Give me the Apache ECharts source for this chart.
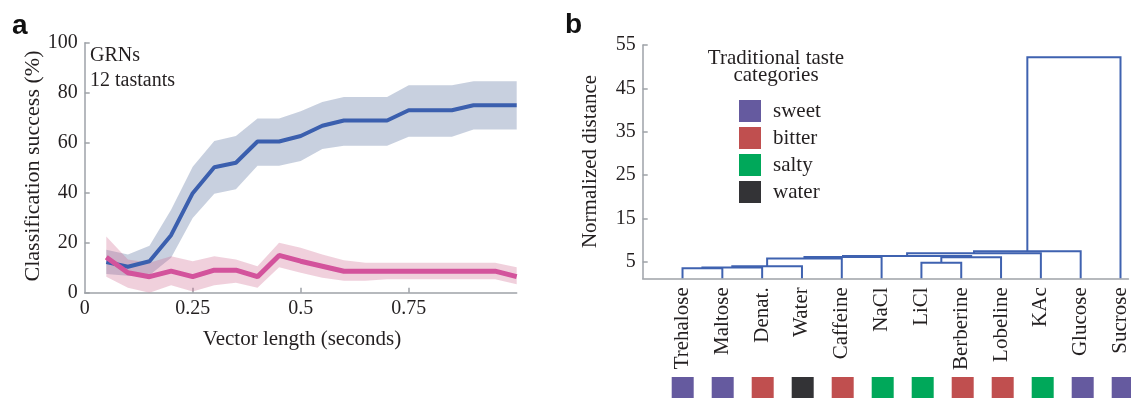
<!DOCTYPE html>
<html>
<head>
<meta charset="utf-8">
<script src="https://cdn.jsdelivr.net/npm/echarts@6/dist/echarts.min.js"></script>
<style>
html,body{margin:0;padding:0;background:#fff;}
#c{width:1131px;height:398px;}
</style>
</head>
<body>
<div id="c"></div>
<script>
// ---------- Panel a data ----------
const vectorLength = [0.05,0.1,0.15,0.2,0.25,0.3,0.35,0.4,0.45,0.5,0.55,0.6,0.65,0.7,0.75,0.8,0.85,0.9,0.95,1.0];
const blueMean  = [12.3,10.4,12.6,23,39.8,50.2,52,60.5,60.5,62.7,66.8,68.9,68.9,68.9,73,73,73,75,75,75];
const blueUpper = [17.2,15.3,18.8,33.2,50.4,60.7,62.7,69.7,69.7,72.6,76.3,78.3,78.3,78.3,83,83,83,84.6,84.6,84.6];
const blueLower = [7.5,6.8,7,14,29.9,39.6,41.4,50.8,50.8,52.7,57.5,58.8,58.8,58.8,62.4,62.4,62.4,65.3,65.3,65.3];
const pinkMean  = [14.2,8,6.4,8.6,6.4,9,9,6.4,14.9,12.6,10.6,8.6,8.6,8.6,8.6,8.6,8.6,8.6,8.6,6.4];
const pinkUpper = [22.5,13.3,12,14.6,12.6,14.6,13.3,10.6,20,18,15.3,13,12,12,12,12,12,12,12,10.2];
const pinkLower = [6.4,2,0,3,0.5,3,4,2,10.2,8,6,4.8,4.8,5.4,5.4,5.4,5.4,5.4,5.4,3.4];
const xTickLabels = [0,0.25,0.5,0.75];

// ---------- Panel b data ----------
const leaves = ['Trehalose','Maltose','Denat.','Water','Caffeine','NaCl','LiCl','Berberine','Lobeline','KAc','Glucose','Sucrose'];
const leafCategory = ['sweet','sweet','bitter','water','bitter','salty','salty','bitter','bitter','salty','sweet','sweet'];
const categories = ['sweet','bitter','salty','water'];
// linkage: node ids 0-11 are leaves, 12+ are merged clusters
const linkLeft   = [0,12,13,14,15,6,17,16,19,20,21];
const linkRight  = [1,2,3,4,5,7,8,18,9,10,11];
const linkHeight = [3.5,3.7,4.0,5.75,6.1,4.8,6.05,6.35,6.95,7.45,52.2];
const distTicks = [5,15,25,35,45,55];

// ---------- styles ----------
const SERIF = 'Liberation Serif';
const TXT = '#231f20';
const AX = '#9ea2a8';
const catColor = {sweet:'#655a9f', bitter:'#c04f4f', salty:'#00a85a', water:'#333336'};
const Y_MIN_B = 1.2;

function pairs(ys){ return vectorLength.map((x,i)=>[x,ys[i]]); }

function bandSeries(lower, upper, fill, z){
  return {
    type:'custom', xAxisIndex:0, yAxisIndex:0, silent:true, z:z, clip:true,
    data: vectorLength.map((x,i)=>[x, lower[i], upper[i]]),
    encode:{x:0, y:[1,2]},
    renderItem:function(params, api){
      if (params.dataIndex !== 0) return null;
      const pts = [];
      for (let i=0;i<vectorLength.length;i++) pts.push(api.coord([vectorLength[i], upper[i]]));
      for (let i=vectorLength.length-1;i>=0;i--) pts.push(api.coord([vectorLength[i], lower[i]]));
      return {type:'polygon', shape:{points:pts}, style:{fill:fill, stroke:null}};
    }
  };
}

// dendrogram geometry in data units
const nodeX = leaves.map((_,i)=>i+1);
const nodeH = leaves.map(()=>Y_MIN_B);
const linkData = [];
linkLeft.forEach((l,k)=>{
  const r = linkRight[k], h = linkHeight[k];
  linkData.push({coords:[[nodeX[l],nodeH[l]],[nodeX[l],h],[nodeX[r],h],[nodeX[r],nodeH[r]]]});
  nodeX.push((nodeX[l]+nodeX[r])/2);
  nodeH.push(h);
});

const squareSeries = categories.map(cat=>({
  name: cat, type:'scatter', xAxisIndex:2, yAxisIndex:2,
  symbol:'rect', symbolSize:[22,21], silent:true,
  itemStyle:{color:catColor[cat], opacity:1},
  data: leaves.map((_,i)=>i).filter(i=>leafCategory[i]===cat).map(i=>[i+1,0.5])
}));

const chart = echarts.init(document.getElementById('c'));
chart.setOption({
  animation:false,
  textStyle:{fontFamily:SERIF,color:TXT},
  grid:[
    {left:84.7, top:42.7, width:432, height:250},
    {left:642.7, top:45, width:488, height:233.3},
    {left:642.7, top:377, width:488, height:21}
  ],
  xAxis:[
    {gridIndex:0, type:'value', min:0, max:1,
     axisLine:{lineStyle:{color:AX,width:1.5}},
     axisTick:{inside:true,length:5,customValues:[0.25,0.5,0.75],lineStyle:{color:AX,width:1.5}},
     axisLabel:{customValues:xTickLabels,fontFamily:SERIF,fontSize:20,color:TXT,margin:6},
     splitLine:{show:false}},
    {gridIndex:1, type:'value', min:0, max:12.2,
     axisLine:{lineStyle:{color:AX,width:1.5}},
     axisTick:{show:false},
     axisLabel:{customValues:leaves.map((_,i)=>i+1),rotate:90,fontFamily:SERIF,fontSize:21,color:TXT,margin:9,
       formatter:v=>leaves[Math.round(v)-1]},
     splitLine:{show:false}},
    {gridIndex:2, type:'value', min:0, max:12.2, show:false}
  ],
  yAxis:[
    {gridIndex:0, type:'value', min:0, max:100, interval:20,
     axisLine:{show:true,lineStyle:{color:AX,width:1.5}},
     axisTick:{show:true,inside:true,length:5,lineStyle:{color:AX,width:1.5}},
     axisLabel:{fontFamily:SERIF,fontSize:20,color:TXT,margin:7},
     splitLine:{show:false}},
    {gridIndex:1, type:'value', min:Y_MIN_B, max:55,
     axisLine:{show:true,lineStyle:{color:AX,width:1.5}},
     axisTick:{show:true,inside:true,length:5,customValues:distTicks,lineStyle:{color:AX,width:1.5}},
     axisLabel:{customValues:distTicks,fontFamily:SERIF,fontSize:20,color:TXT,margin:7},
     splitLine:{show:false}},
    {gridIndex:2, type:'value', min:0, max:1, show:false}
  ],
  legend:{
    data:categories, orient:'vertical', left:739, top:100, padding:0,
    itemWidth:22, itemHeight:22, itemGap:5, icon:'rect', selectedMode:false,
    textStyle:{fontFamily:SERIF,fontSize:21,color:TXT,padding:[0,0,0,7]}
  },
  series:[
    bandSeries(blueLower, blueUpper, 'rgba(74,98,150,0.3)', 1),
    bandSeries(pinkLower, pinkUpper, 'rgba(205,98,140,0.3)', 2),
    {type:'line', xAxisIndex:0, yAxisIndex:0, data:pairs(blueMean), symbol:'none', lineStyle:{color:'#3b5fae',width:4}, silent:true, z:3},
    {type:'line', xAxisIndex:0, yAxisIndex:0, data:pairs(pinkMean), symbol:'none', lineStyle:{color:'#d3539c',width:5}, silent:true, z:4},
    {type:'lines', coordinateSystem:'cartesian2d', xAxisIndex:1, yAxisIndex:1, polyline:true, silent:true,
     lineStyle:{color:'#3f62b0',width:2,opacity:1}, data:linkData, z:3}
  ].concat(squareSeries),
  graphic:[
    {type:'text', x:12, y:26, style:{text:'a', font:'bold 28px "Liberation Sans"', fill:'#111', textAlign:'left', textVerticalAlign:'middle'}},
    {type:'text', x:565, y:25, style:{text:'b', font:'bold 28px "Liberation Sans"', fill:'#111', textAlign:'left', textVerticalAlign:'middle'}},
    {type:'text', x:90, y:56, style:{text:'GRNs', font:'20px "Liberation Serif"', fill:TXT, textAlign:'left', textVerticalAlign:'middle'}},
    {type:'text', x:90, y:81, style:{text:'12 tastants', font:'20px "Liberation Serif"', fill:TXT, textAlign:'left', textVerticalAlign:'middle'}},
    {type:'text', x:33, y:166, rotation:Math.PI/2, style:{text:'Classification success (%)', font:'22px "Liberation Serif"', fill:TXT, textAlign:'center', textVerticalAlign:'middle'}},
    {type:'text', x:302, y:339, style:{text:'Vector length (seconds)', font:'21px "Liberation Serif"', fill:TXT, textAlign:'center', textVerticalAlign:'middle'}},
    {type:'text', x:590, y:161.5, rotation:Math.PI/2, style:{text:'Normalized distance', font:'21px "Liberation Serif"', fill:TXT, textAlign:'center', textVerticalAlign:'middle'}},
    {type:'text', x:776, y:67, style:{text:'Traditional taste\ncategories', font:'21px "Liberation Serif"', lineHeight:17, fill:TXT, textAlign:'center', textVerticalAlign:'middle'}}
  ]
});
</script>
</body>
</html>
